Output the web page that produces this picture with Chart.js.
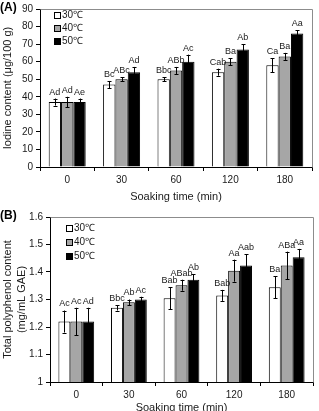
<!DOCTYPE html>
<html><head><meta charset="utf-8">
<script src="https://cdn.jsdelivr.net/npm/chart.js@4"></script>
<style>
html,body{margin:0;padding:0;background:#fff;overflow:hidden;width:319px;height:411px;}
#wa{position:absolute;left:0;top:0;width:319px;height:205px;}
#wb{position:absolute;left:0;top:205px;width:319px;height:210px;}
.pl{position:absolute;font:bold 12px "Liberation Sans",Arial,sans-serif;color:#000;}
</style></head><body>
<div id="wa"><canvas id="ca"></canvas></div>
<div id="wb"><canvas id="cb"></canvas></div>
<div class="pl" style="left:0;top:0">(A)</div>
<div class="pl" style="left:0;top:208px">(B)</div>
<script>
const categories = ['0','30','60','120','180'];
const seriesNames = ['30℃','40℃','50℃'];
const seriesColors = ['#ffffff','#a6a6a6','#000000'];

const iodine30 = [37,47,50,54,58];
const iodine40 = [37,50,55,60,63];
const iodine50 = [37,54,60,67,76];
const iodineErr30 = [2,2,1,2,4];
const iodineErr40 = [3,1,2,2,2];
const iodineErr50 = [2,3,4,3,2];
const iodineLetters30 = ['Ad','Bc','Bbc','Cab','Ca'];
const iodineLetters40 = ['Ad','ABc','ABb','Ba','Ba'];
const iodineLetters50 = ['Ae','Ad','Ac','Ab','Aa'];

const poly30 = [1.22,1.27,1.305,1.315,1.345];
const poly40 = [1.22,1.29,1.352,1.405,1.424];
const poly50 = [1.22,1.30,1.372,1.424,1.454];
const polyErr30 = [0.04,0.01,0.04,0.02,0.04];
const polyErr40 = [0.05,0.01,0.02,0.04,0.05];
const polyErr50 = [0.05,0.01,0.02,0.04,0.03];
const polyLetters30 = ['Ac','Bbc','Bab','Bab','Ba'];
const polyLetters40 = ['Ac','Ab','ABab','Aa','ABa'];
const polyLetters50 = ['Ad','Ac','Ab','Aab','Aa'];

const FONT = '"Liberation Sans", Arial, sans-serif';
const TXT = '#1a1a1a';

const annotPlugin = {
  id:'annot',
  afterDatasetsDraw(chart, args, opts){
    const ctx = chart.ctx, y = chart.scales.y, a = chart.chartArea;
    ctx.save();
    // frame top/right
    ctx.strokeStyle = '#8c8c8c'; ctx.lineWidth = 1;
    ctx.beginPath();
    ctx.moveTo(Math.round(a.left)+0.5, Math.round(a.top)+0.5);
    ctx.lineTo(Math.round(a.right)+0.5, Math.round(a.top)+0.5);
    ctx.lineTo(Math.round(a.right)+0.5, Math.round(a.bottom)+0.5);
    ctx.stroke();
    // error bars + letters
    chart.data.datasets.forEach((ds, di) => {
      const meta = chart.getDatasetMeta(di);
      meta.data.forEach((el, i) => {
        const v = ds.data[i], e = ds.errors[i];
        const yt = y.getPixelForValue(v + e), yb = y.getPixelForValue(v - e);
        const x = Math.round(el.x) + 0.5;
        ctx.strokeStyle = '#000';
        ctx.beginPath();
        ctx.moveTo(x, yt); ctx.lineTo(x, yb);
        ctx.moveTo(x-2, Math.round(yt)+0.5); ctx.lineTo(x+2, Math.round(yt)+0.5);
        ctx.moveTo(x-2, Math.round(yb)+0.5); ctx.lineTo(x+2, Math.round(yb)+0.5);
        ctx.stroke();
        ctx.fillStyle = TXT;
        ctx.font = '9px ' + FONT;
        ctx.textAlign = 'center'; ctx.textBaseline = 'bottom';
        ctx.fillText(ds.letters[i], el.x, yt - 2);
      });
    });
    // legend
    const L = opts.legend;
    chart.data.datasets.forEach((ds, di) => {
      const cy = L.y + di * L.dy;
      ctx.fillStyle = ds.backgroundColor;
      ctx.fillRect(L.x, cy - 3, 7, 7);
      ctx.strokeStyle = '#000';
      ctx.strokeRect(L.x + 0.5, cy - 2.5, 6, 6);
      ctx.fillStyle = TXT;
      ctx.font = '10px ' + FONT;
      ctx.textAlign = 'left'; ctx.textBaseline = 'middle';
      ctx.fillText(ds.label, L.x + 8, cy + 0.5);
    });
    ctx.restore();
  }
};

function makeDatasets(vals, errs, letters){
  return vals.map((d, k) => ({
    label: seriesNames[k], data: d, errors: errs[k], letters: letters[k],
    backgroundColor: seriesColors[k], borderColor:'#000', borderWidth:1,
    categoryPercentage:0.68, barPercentage:1
  }));
}

function makeChart(id, cfg){
  return new Chart(document.getElementById(id), {
    type:'bar',
    data:{ labels: categories, datasets: cfg.datasets },
    plugins:[annotPlugin],
    options:{
      responsive:true, maintainAspectRatio:false, animation:false,
      layout:{ padding: cfg.padding },
      plugins:{ legend:{display:false}, tooltip:{enabled:false}, annot:{ legend: cfg.legend } },
      scales:{
        x:{
          grid:{ offset:true, drawOnChartArea:false, tickLength:4, color:'#000' },
          border:{ color:'#000' },
          ticks:{ font:{family:FONT, size:10}, color:TXT, padding:3 },
          title:{ display:true, text:'Soaking time (min)', font:{family:FONT, size:11}, color:TXT, padding:0 },
          afterFit(s){ s.height = cfg.xHeight; }
        },
        y:{
          min: cfg.min, max: cfg.max,
          grid:{ drawOnChartArea:false, tickLength:4, color:'#000' },
          border:{ color:'#000' },
          ticks:{ stepSize: cfg.step, font:{family:FONT, size:10}, color:TXT, padding:3,
                  callback: v => String(+v.toFixed(1)) },
          title:{ display:true, text: cfg.yTitle, font:{family:FONT, size:11, lineHeight:1.25}, color:TXT, padding:{top:1,bottom:0} },
          afterFit(s){ s.width = cfg.yWidth; }
        }
      }
    }
  });
}

makeChart('ca', {
  datasets: makeDatasets([iodine30,iodine40,iodine50],[iodineErr30,iodineErr40,iodineErr50],[iodineLetters30,iodineLetters40,iodineLetters50]),
  padding:{top:5,right:7,left:0,bottom:1}, xHeight:37, yWidth:40,
  min:0, max:90, step:10, yTitle:'Iodine content (μg/100 g)',
  legend:{x:54, y:15, dy:13}
});
makeChart('cb', {
  datasets: makeDatasets([poly30,poly40,poly50],[polyErr30,polyErr40,polyErr50],[polyLetters30,polyLetters40,polyLetters50]),
  padding:{top:12,right:6,left:0,bottom:0}, xHeight:33, yWidth:50,
  min:1, max:1.6, step:0.1, yTitle:['Total polyphenol content','(mg/mL GAE)'],
  legend:{x:66, y:23, dy:14}
});
</script>
</body></html>
